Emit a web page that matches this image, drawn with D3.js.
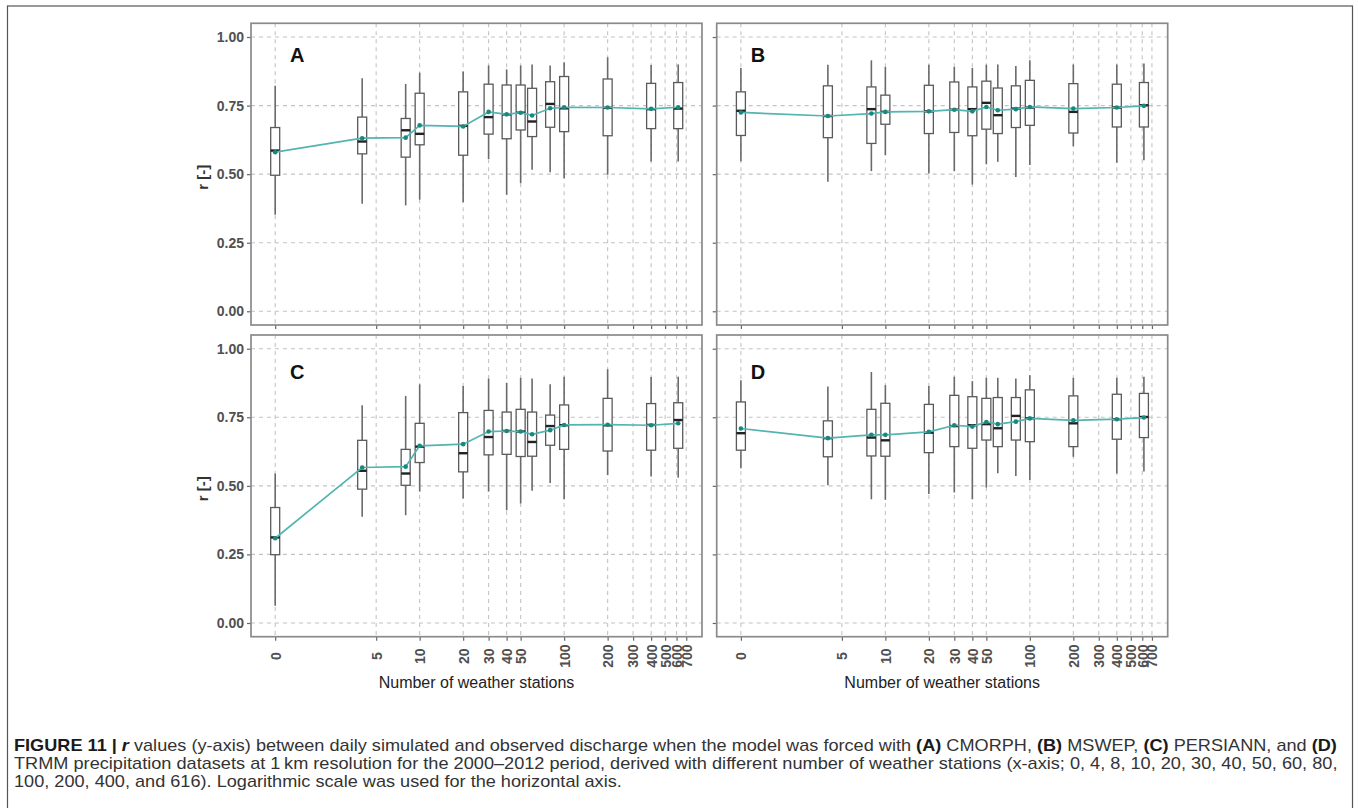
<!DOCTYPE html>
<html>
<head>
<meta charset="utf-8">
<script src="https://cdn.jsdelivr.net/npm/d3@7"></script>
<style>
  body { margin: 0; background: #fff; }
  svg { display: block; font-family: "Liberation Sans", Arial, Helvetica, sans-serif; }
  .cap { white-space: pre; }
</style>
</head>
<body>
<svg id="fig" width="1358" height="808"></svg>
<script>
// Number of weather stations used for each experiment
const stations = [0, 4, 8, 10, 20, 30, 40, 50, 60, 80, 100, 200, 400, 616];
// Axis ticks
const xTickValues = [0, 5, 10, 20, 30, 40, 50, 100, 200, 300, 400, 500, 600, 700];
const yTickValues = [0, 0.25, 0.5, 0.75, 1];
const panelLetters = ["A", "B", "C", "D"];

// Box statistics per station count: [lower whisker, Q1, median, Q3, upper whisker]
const cmorphBoxes = [
  [0.352, 0.496, 0.586, 0.670, 0.822],
  [0.392, 0.574, 0.619, 0.708, 0.850],
  [0.386, 0.562, 0.660, 0.703, 0.829],
  [0.407, 0.607, 0.647, 0.795, 0.870],
  [0.398, 0.569, 0.676, 0.800, 0.874],
  [0.555, 0.646, 0.708, 0.828, 0.896],
  [0.425, 0.629, 0.718, 0.825, 0.882],
  [0.467, 0.661, 0.724, 0.825, 0.896],
  [0.516, 0.637, 0.692, 0.813, 0.900],
  [0.507, 0.671, 0.756, 0.837, 0.896],
  [0.485, 0.655, 0.740, 0.856, 0.908],
  [0.498, 0.640, 0.742, 0.847, 0.926],
  [0.546, 0.666, 0.737, 0.831, 0.898],
  [0.546, 0.666, 0.739, 0.834, 0.900]
];
const cmorphMeans = [0.580, 0.631, 0.633, 0.678, 0.674, 0.727, 0.718, 0.724, 0.714, 0.740, 0.744, 0.743, 0.738, 0.744];

const mswepBoxes = [
  [0.547, 0.641, 0.731, 0.800, 0.887],
  [0.472, 0.633, 0.712, 0.822, 0.899],
  [0.511, 0.612, 0.737, 0.818, 0.915],
  [0.569, 0.682, 0.727, 0.788, 0.891],
  [0.502, 0.648, 0.729, 0.824, 0.899],
  [0.511, 0.652, 0.735, 0.836, 0.891],
  [0.462, 0.640, 0.737, 0.818, 0.887],
  [0.536, 0.664, 0.760, 0.839, 0.899],
  [0.545, 0.648, 0.715, 0.814, 0.900],
  [0.490, 0.670, 0.739, 0.822, 0.894],
  [0.533, 0.678, 0.743, 0.842, 0.915],
  [0.602, 0.650, 0.727, 0.830, 0.900],
  [0.542, 0.672, 0.743, 0.828, 0.900],
  [0.551, 0.672, 0.751, 0.834, 0.903]
];
const mswepMeans = [0.725, 0.712, 0.721, 0.727, 0.729, 0.735, 0.729, 0.745, 0.733, 0.737, 0.745, 0.739, 0.743, 0.749];

const persiannBoxes = [
  [0.063, 0.249, 0.312, 0.421, 0.545],
  [0.387, 0.488, 0.555, 0.666, 0.794],
  [0.393, 0.502, 0.545, 0.633, 0.828],
  [0.479, 0.585, 0.643, 0.728, 0.870],
  [0.454, 0.551, 0.619, 0.767, 0.864],
  [0.479, 0.613, 0.678, 0.775, 0.891],
  [0.411, 0.615, 0.700, 0.769, 0.876],
  [0.436, 0.607, 0.698, 0.779, 0.894],
  [0.482, 0.608, 0.660, 0.769, 0.891],
  [0.510, 0.648, 0.718, 0.758, 0.870],
  [0.451, 0.633, 0.721, 0.795, 0.898],
  [0.539, 0.627, 0.721, 0.819, 0.925],
  [0.534, 0.630, 0.722, 0.800, 0.897],
  [0.530, 0.637, 0.740, 0.803, 0.898]
];
const persiannMeans = [0.309, 0.567, 0.570, 0.646, 0.652, 0.698, 0.700, 0.698, 0.688, 0.703, 0.722, 0.723, 0.721, 0.728];

const trmmBoxes = [
  [0.564, 0.630, 0.692, 0.806, 0.885],
  [0.502, 0.606, 0.674, 0.737, 0.862],
  [0.451, 0.609, 0.676, 0.779, 0.915],
  [0.449, 0.608, 0.666, 0.801, 0.867],
  [0.470, 0.621, 0.694, 0.797, 0.864],
  [0.476, 0.643, 0.718, 0.830, 0.898],
  [0.451, 0.637, 0.721, 0.825, 0.882],
  [0.494, 0.667, 0.725, 0.819, 0.894],
  [0.546, 0.643, 0.710, 0.822, 0.894],
  [0.536, 0.667, 0.755, 0.822, 0.891],
  [0.521, 0.661, 0.746, 0.850, 0.903],
  [0.606, 0.643, 0.728, 0.828, 0.894],
  [0.545, 0.670, 0.743, 0.834, 0.894],
  [0.552, 0.676, 0.751, 0.837, 0.898]
];
const trmmMeans = [0.709, 0.674, 0.686, 0.686, 0.697, 0.721, 0.716, 0.733, 0.725, 0.734, 0.746, 0.739, 0.743, 0.749];

const panelBoxes = [cmorphBoxes, mswepBoxes, persiannBoxes, trmmBoxes];
const panelMeans = [cmorphMeans, mswepMeans, persiannMeans, trmmMeans];

// ---- layout ----
const PW = 451, PH = 301.7;
const layout = [
  { left: 251,   top: 23.3, yLabels: true,  xLabels: false, letterDx: 39 },
  { left: 716.7, top: 23.3, yLabels: false, xLabels: false, letterDx: 34 },
  { left: 251,   top: 335,  yLabels: true,  xLabels: true,  letterDx: 39 },
  { left: 716.7, top: 335,  yLabels: false, xLabels: true,  letterDx: 34 }
];
const letterBaseline = [38.6, 38.4, 44.2, 44.2];

const svg = d3.select("#fig");

// Figure frame
svg.append("rect")
  .attr("x", 7.5).attr("y", 6).attr("width", 1345).attr("height", 840)
  .attr("fill", "none").attr("stroke", "#555").attr("stroke-width", 1.2);

// Station count 0 is drawn at 1 on the logarithmic axis
const xScale = d3.scaleLog().domain([0.68, 900]).range([0, PW]);
const xPos = n => xScale(n === 0 ? 1 : n);
const yScale = d3.scaleLinear().domain([-0.05, 1.05]).range([PH, 0]);
const boxW = 9;

layout.forEach((L, i) => {
  const g = svg.append("g").attr("transform", `translate(${L.left},${L.top})`);
  const boxes = panelBoxes[i];
  const means = panelMeans[i];

  // dashed grid
  g.append("g").selectAll("line").data(yTickValues).join("line")
    .attr("x1", 0).attr("x2", PW)
    .attr("y1", d => yScale(d)).attr("y2", d => yScale(d))
    .attr("stroke", "#c4c4c4").attr("stroke-width", 1.1).attr("stroke-dasharray", "4,4");
  g.append("g").selectAll("line").data(xTickValues).join("line")
    .attr("y1", 0).attr("y2", PH)
    .attr("x1", d => xPos(d)).attr("x2", d => xPos(d))
    .attr("stroke", "#c4c4c4").attr("stroke-width", 1.1).attr("stroke-dasharray", "4,4");

  // axes (ticks via d3 axes)
  const yAxis = d3.axisLeft(yScale).tickValues(yTickValues).tickSize(4)
    .tickFormat(L.yLabels ? d3.format(".2f") : "");
  const ya = g.append("g").call(yAxis);
  ya.select(".domain").remove();
  ya.selectAll(".tick line").attr("stroke", "#666").attr("stroke-width", 1.2);
  ya.selectAll(".tick text")
    .attr("x", -7).attr("font-size", 14).attr("font-weight", "bold")
    .attr("fill", "#505050").attr("font-family", "Liberation Sans, Arial, sans-serif");

  const xAxis = d3.axisBottom(xScale).tickValues(xTickValues.map(d => d === 0 ? 1 : d)).tickSize(4)
    .tickFormat((d, k) => L.xLabels ? String(xTickValues[k]) : "");
  const xa = g.append("g").attr("transform", `translate(0,${PH})`).call(xAxis);
  xa.select(".domain").remove();
  xa.selectAll(".tick line").attr("stroke", "#666").attr("stroke-width", 1.2);
  xa.selectAll(".tick text")
    .attr("transform", "translate(0,19.5) rotate(-90)")
    .attr("x", 0).attr("y", 0).attr("dy", "0.35em")
    .attr("text-anchor", "middle")
    .attr("font-size", 14).attr("font-weight", "bold")
    .attr("fill", "#505050").attr("font-family", "Liberation Sans, Arial, sans-serif");

  // whiskers, boxes and medians
  const bx = g.append("g");
  boxes.forEach((b, k) => {
    const cx = xPos(stations[k]);
    bx.append("line").attr("x1", cx).attr("x2", cx)
      .attr("y1", yScale(b[0])).attr("y2", yScale(b[1]))
      .attr("stroke", "#6a6a6a").attr("stroke-width", 1.6);
    bx.append("line").attr("x1", cx).attr("x2", cx)
      .attr("y1", yScale(b[3])).attr("y2", yScale(b[4]))
      .attr("stroke", "#6a6a6a").attr("stroke-width", 1.6);
    bx.append("rect")
      .attr("x", cx - boxW / 2).attr("width", boxW)
      .attr("y", yScale(b[3])).attr("height", yScale(b[1]) - yScale(b[3]))
      .attr("fill", "#fff").attr("stroke", "#5a5a5a").attr("stroke-width", 1.3);
    bx.append("line")
      .attr("x1", cx - boxW / 2).attr("x2", cx + boxW / 2)
      .attr("y1", yScale(b[2])).attr("y2", yScale(b[2]))
      .attr("stroke", "#222").attr("stroke-width", 2.4);
  });

  // mean r line
  const pts = means.map((m, k) => [xPos(stations[k]), yScale(m)]);
  g.append("path").attr("d", d3.line()(pts))
    .attr("fill", "none").attr("stroke", "#52b5b0").attr("stroke-width", 1.7);
  g.append("g").selectAll("circle").data(pts).join("circle")
    .attr("cx", d => d[0]).attr("cy", d => d[1]).attr("r", 2.3)
    .attr("fill", "#168a80");

  // panel border
  g.append("rect").attr("width", PW).attr("height", PH)
    .attr("fill", "none").attr("stroke", "#8a8a8a").attr("stroke-width", 1.7);

  // panel letter
  g.append("text").attr("x", L.letterDx).attr("y", letterBaseline[i])
    .attr("font-size", 20).attr("font-weight", "bold").attr("fill", "#111")
    .text(panelLetters[i]);

  if (L.yLabels) {
    svg.append("text")
      .attr("transform", `translate(${208},${L.top + PH / 2 + 3}) rotate(-90)`)
      .attr("text-anchor", "middle")
      .attr("font-size", 15).attr("font-weight", "bold").attr("fill", "#333")
      .text("r [-]");
  }
  if (L.xLabels) {
    svg.append("text")
      .attr("x", L.left + PW / 2).attr("y", L.top + PH + 51.5)
      .attr("text-anchor", "middle")
      .attr("font-size", 16).attr("fill", "#222")
      .text("Number of weather stations");
  }
});

// ---- caption ----
const captionLines = [
  [["FIGURE 11 | ", "b"], ["r", "bi"], [" values (y-axis) between daily simulated and observed discharge when the model was forced with ", ""],
   ["(A)", "b"], [" CMORPH, ", ""], ["(B)", "b"], [" MSWEP, ", ""], ["(C)", "b"], [" PERSIANN, and ", ""], ["(D)", "b"]],
  [["TRMM precipitation datasets at 1\u2009km resolution for the 2000\u20132012 period, derived with different number of weather stations (x-axis; 0, 4, 8, 10, 20, 30, 40, 50, 60, 80,", ""]],
  [["100, 200, 400, and 616). Logarithmic scale was used for the horizontal axis.", ""]]
];
const capX = 14, capRight = 1338;
const capBase = [751, 769, 787];
let squeeze = 1;
captionLines.forEach((parts, li) => {
  const t = svg.append("text").attr("class", "cap")
    .attr("font-size", 16).attr("fill", "#333");
  parts.forEach(([s, st]) => {
    t.append("tspan").text(s)
      .attr("font-weight", st.includes("b") ? "bold" : null)
      .attr("font-style", st.includes("i") ? "italic" : null)
      .attr("fill", st.includes("b") ? "#1a1a1a" : null);
  });
  const w = t.node().getComputedTextLength();
  if (li < 2) {
    const s = (capRight - capX) / w;
    if (li === 0) squeeze = s;
    t.attr("transform", `translate(${capX},${capBase[li]}) scale(${s},1)`);
  } else {
    t.attr("transform", `translate(${capX},${capBase[li]}) scale(${squeeze},1)`);
  }
});
</script>
</body>
</html>
